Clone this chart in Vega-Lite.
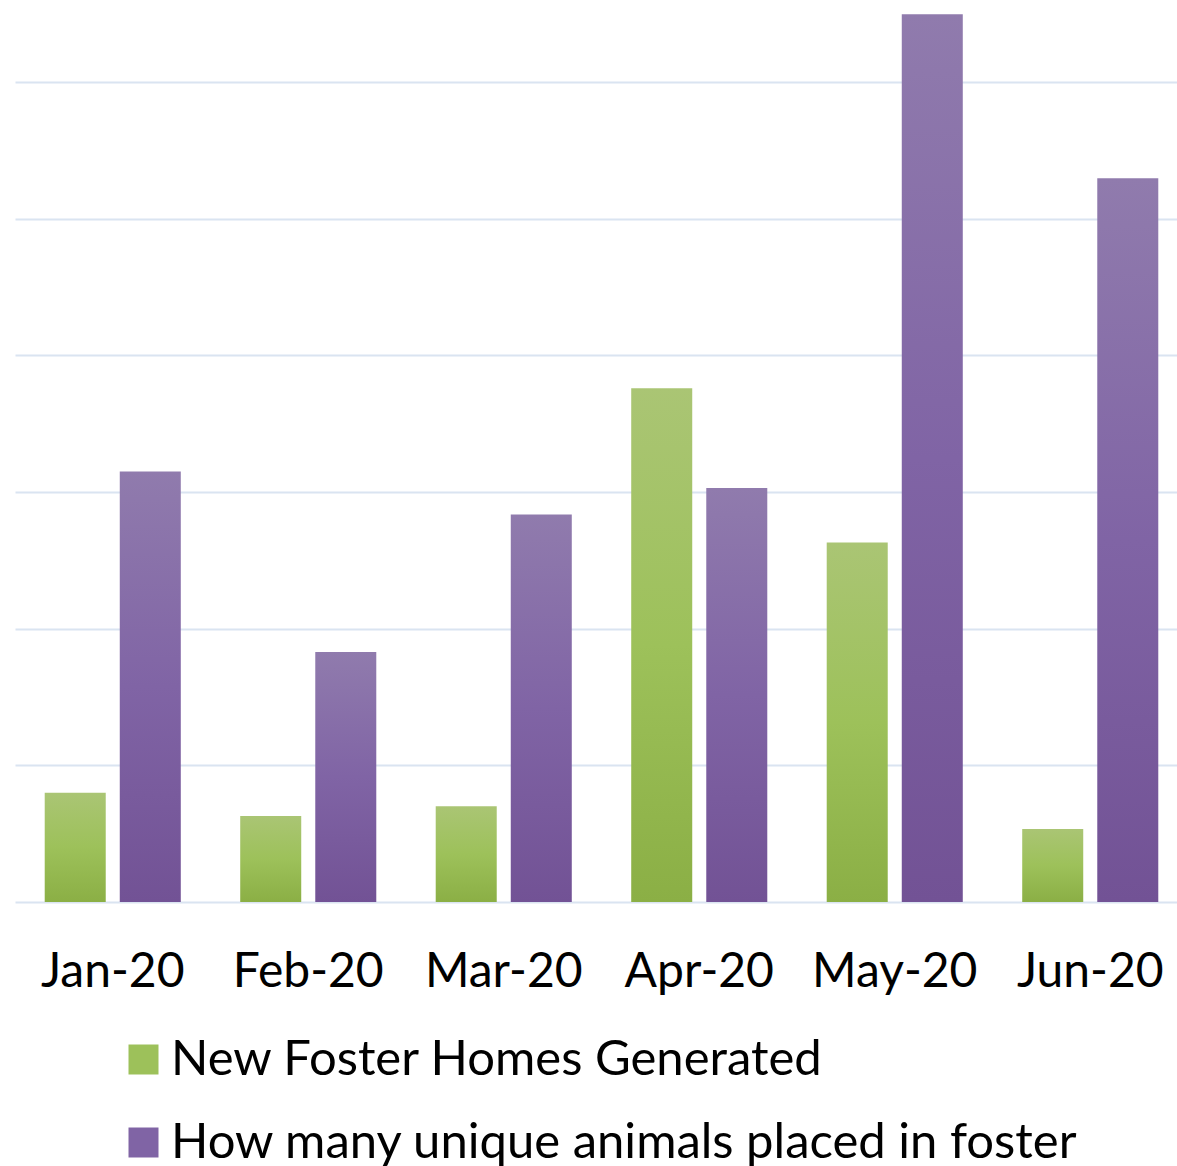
{
  "$schema": "https://vega.github.io/schema/vega-lite/v6.json",
  "width": 1162,
  "height": 902,
  "autosize": {"type": "none"},
  "padding": {"left": 15, "top": 0, "right": 0, "bottom": 264},
  "config": {"view": {"stroke": null}, "font": "Lato"},
  "data": {
    "values": [
      {"month": "Jan-20", "series": "New Foster Homes Generated", "value": 16},
      {"month": "Jan-20", "series": "How many unique animals placed in foster", "value": 63},
      {"month": "Feb-20", "series": "New Foster Homes Generated", "value": 12.6},
      {"month": "Feb-20", "series": "How many unique animals placed in foster", "value": 36.6},
      {"month": "Mar-20", "series": "New Foster Homes Generated", "value": 14},
      {"month": "Mar-20", "series": "How many unique animals placed in foster", "value": 56.7},
      {"month": "Apr-20", "series": "New Foster Homes Generated", "value": 75.2},
      {"month": "Apr-20", "series": "How many unique animals placed in foster", "value": 60.6},
      {"month": "May-20", "series": "New Foster Homes Generated", "value": 52.6},
      {"month": "May-20", "series": "How many unique animals placed in foster", "value": 129.9},
      {"month": "Jun-20", "series": "New Foster Homes Generated", "value": 10.7},
      {"month": "Jun-20", "series": "How many unique animals placed in foster", "value": 105.9}
    ]
  },
  "layer": [
    {
      "mark": {"type": "bar"},
      "encoding": {
        "x": {
          "field": "month",
          "type": "nominal",
          "sort": ["Jan-20", "Feb-20", "Mar-20", "Apr-20", "May-20", "Jun-20"],
          "scale": {"range": [0, 1173], "paddingInner": 0.304, "paddingOuter": 0.152},
          "axis": {"title": null, "labelAngle": 0, "labelFontSize": 48, "labelColor": "#000000", "domain": false, "ticks": false, "labelPadding": 46, "grid": false}
        },
        "xOffset": {
          "field": "series",
          "type": "nominal",
          "sort": ["New Foster Homes Generated", "How many unique animals placed in foster"],
          "scale": {"paddingInner": 0.187, "paddingOuter": 0}
        },
        "y": {
          "field": "value",
          "type": "quantitative",
          "scale": {"domain": [0, 132], "nice": false},
          "axis": {"title": null, "labels": false, "ticks": false, "domain": false, "values": [0, 20, 40, 60, 80, 100, 120], "gridColor": "#dae4f1", "gridWidth": 2, "gridOpacity": 1}
        },
        "fill": {
          "condition": {
            "test": "datum.series === 'New Foster Homes Generated'",
            "value": {"gradient": "linear", "x1": 0, "y1": 0, "x2": 0, "y2": 1, "stops": [{"offset": 0, "color": "#aac574"}, {"offset": 0.5, "color": "#9dc15a"}, {"offset": 1, "color": "#8baf45"}]}
          },
          "value": {"gradient": "linear", "x1": 0, "y1": 0, "x2": 0, "y2": 1, "stops": [{"offset": 0, "color": "#907bad"}, {"offset": 0.5, "color": "#8064a5"}, {"offset": 1, "color": "#725295"}]}
        }
      }
    },
    {
      "mark": {"type": "square", "opacity": 0, "size": 0},
      "encoding": {
        "color": {
          "field": "series",
          "type": "nominal",
          "sort": ["New Foster Homes Generated", "How many unique animals placed in foster"],
          "scale": {"range": ["#9dc15a", "#8064a5"]},
          "legend": {
            "title": null,
            "orient": "none",
            "legendX": 104,
            "legendY": 1035,
            "direction": "vertical",
            "symbolType": "square",
            "symbolSize": 900,
            "symbolStrokeWidth": 0,
            "symbolOpacity": 1,
            "labelFontSize": 49,
            "labelColor": "#000000",
            "labelOffset": 3,
            "labelLimit": 1200,
            "rowPadding": 33,
            "padding": 0,
            "encode": {
              "symbols": {
                "update": {
                  "fill": [
                    {"test": "datum.value === 'New Foster Homes Generated'", "value": {"gradient": "linear", "x1": 0, "y1": 0, "x2": 0, "y2": 1, "stops": [{"offset": 0, "color": "#aac574"}, {"offset": 1, "color": "#8baf45"}]}},
                    {"value": {"gradient": "linear", "x1": 0, "y1": 0, "x2": 0, "y2": 1, "stops": [{"offset": 0, "color": "#907bad"}, {"offset": 1, "color": "#725295"}]}}
                  ],
                  "opacity": {"value": 1}
                }
              }
            }
          }
        }
      }
    }
  ]
}
